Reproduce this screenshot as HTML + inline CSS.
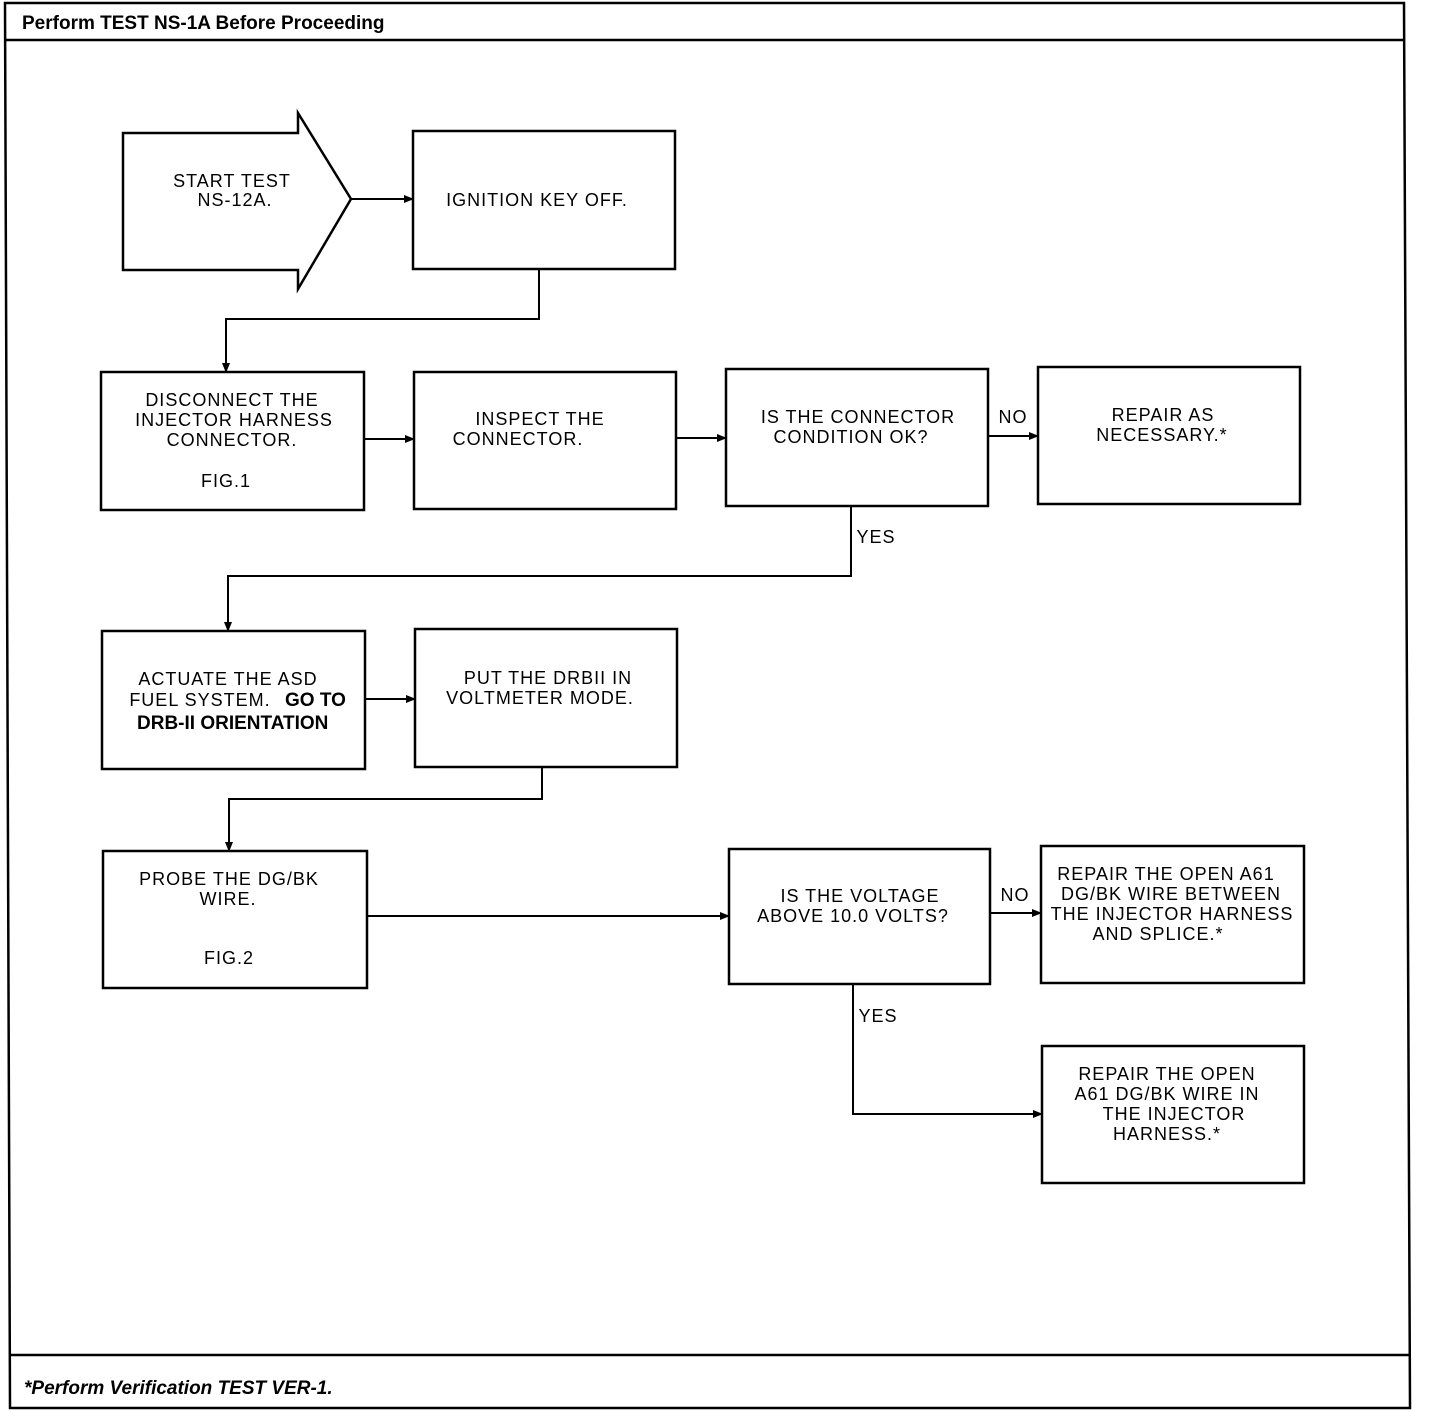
<!DOCTYPE html>
<html><head><meta charset="utf-8"><style>
html,body{margin:0;padding:0;background:#fff;}
svg{display:block}
.t{font-family:"Liberation Sans",sans-serif;font-size:18px;fill:#000;text-anchor:middle;letter-spacing:1px}
.b{font-family:"Liberation Sans",sans-serif;font-weight:bold;font-size:19px;fill:#000}
</style></head><body>
<svg width="1440" height="1412" viewBox="0 0 1440 1412" xmlns="http://www.w3.org/2000/svg">
<defs><marker id="a" markerWidth="10" markerHeight="8" refX="9" refY="4" orient="auto" markerUnits="userSpaceOnUse"><path d="M0,0 L10,4 L0,8 z" fill="#000"/></marker></defs>
<g fill="none" stroke="#000" stroke-width="2.5">
<path d="M5,3 L1404,3 L1410,1408 L10,1408 Z"/>
<line x1="5" y1="40" x2="1404" y2="40"/>
<line x1="10" y1="1355" x2="1410" y2="1355"/>
<path d="M123,133 L298,133 L298,113 L351,199 L298,289 L298,270 L123,270 Z"/>
<rect x="413" y="131" width="262" height="138"/>
<rect x="101" y="372" width="263" height="138"/>
<rect x="414" y="372" width="262" height="137"/>
<rect x="726" y="369" width="262" height="137"/>
<rect x="1038" y="367" width="262" height="137"/>
<rect x="102" y="631" width="263" height="138"/>
<rect x="415" y="629" width="262" height="138"/>
<rect x="103" y="851" width="264" height="137"/>
<rect x="729" y="849" width="261" height="135"/>
<rect x="1041" y="846" width="263" height="137"/>
<rect x="1042" y="1046" width="262" height="137"/>
</g>
<g fill="none" stroke="#000" stroke-width="2" marker-end="url(#a)">
<line x1="351" y1="199" x2="413" y2="199"/>
<path d="M539,269 V319 H226 V372"/>
<line x1="364" y1="439" x2="414" y2="439"/>
<line x1="676" y1="438" x2="726" y2="438"/>
<line x1="988" y1="436" x2="1038" y2="436"/>
<path d="M851,506 V576 H228 V631"/>
<line x1="365" y1="699" x2="415" y2="699"/>
<path d="M542,767 V799 H229 V851"/>
<line x1="367" y1="916" x2="729" y2="916"/>
<line x1="990" y1="913" x2="1041" y2="913"/>
<path d="M853,984 V1114 H1042"/>
</g>
<text class="b" x="22" y="29">Perform TEST NS-1A Before Proceeding</text>
<text class="b" x="24" y="1394" font-style="italic" font-size="26">*Perform Verification TEST VER-1.</text>
<g class="t">
<text x="232" y="187">START TEST</text><text x="235" y="206">NS-12A.</text>
<text x="537" y="206">IGNITION KEY OFF.</text>
<text x="232" y="406">DISCONNECT THE</text><text x="234" y="426">INJECTOR HARNESS</text><text x="232" y="446">CONNECTOR.</text><text x="226" y="487">FIG.1</text>
<text x="540" y="425">INSPECT THE</text><text x="518" y="445">CONNECTOR.</text>
<text x="858" y="423">IS THE CONNECTOR</text><text x="851" y="443">CONDITION OK?</text>
<text x="1013" y="423">NO</text>
<text x="1163" y="421">REPAIR AS</text><text x="1162" y="441">NECESSARY.*</text>
<text x="876" y="543">YES</text>
<text x="228" y="685">ACTUATE THE ASD</text>
<text x="200" y="706">FUEL SYSTEM.</text>
<text x="548" y="684">PUT THE DRBII IN</text><text x="540" y="704">VOLTMETER MODE.</text>
<text x="229" y="885">PROBE THE DG/BK</text><text x="228" y="905">WIRE.</text><text x="229" y="964">FIG.2</text>
<text x="860" y="902">IS THE VOLTAGE</text><text x="853" y="922">ABOVE 10.0 VOLTS?</text>
<text x="1015" y="901">NO</text>
<text x="1166" y="880">REPAIR THE OPEN A61</text><text x="1171" y="900">DG/BK WIRE BETWEEN</text><text x="1172" y="920">THE INJECTOR HARNESS</text><text x="1158" y="940">AND SPLICE.*</text>
<text x="878" y="1022">YES</text>
<text x="1167" y="1080">REPAIR THE OPEN</text><text x="1167" y="1100">A61 DG/BK WIRE IN</text><text x="1174" y="1120">THE INJECTOR</text><text x="1167" y="1140">HARNESS.*</text>
</g>
<text class="b" x="285" y="706" font-size="18">GO TO</text>
<text class="b" x="137" y="729" font-size="18">DRB-II ORIENTATION</text>
</svg>
</body></html>
